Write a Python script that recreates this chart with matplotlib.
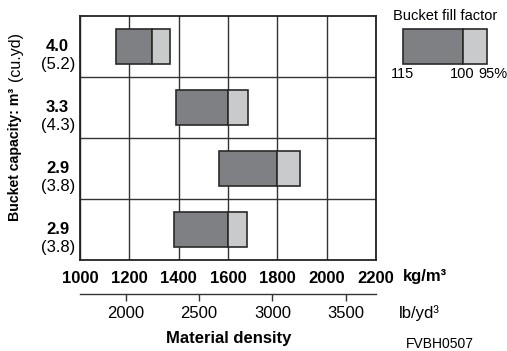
import matplotlib
matplotlib.use("Agg")
import matplotlib.pyplot as plt
import matplotlib.transforms as mtransforms
import numpy as np

plt.rcParams['font.family'] = ['Liberation Sans', 'DejaVu Sans']

W, H = 507, 351

# bucket sizes (rows, top to bottom)
capacity_m3 = ['4.0', '3.3', '2.9', '2.9']
capacity_yd = ['(5.2)', '(4.3)', '(3.8)', '(3.8)']

# material density (kg/m3) at fill factor 115 %, 100 %, 95 %
density_115 = [1145, 1390, 1565, 1382]
density_100 = [1290, 1600, 1800, 1600]
density_95 = [1365, 1682, 1893, 1678]

kg_ticks = [1000, 1200, 1400, 1600, 1800, 2000, 2200]
lb_ticks = [2000, 2500, 3000, 3500]
fill_factors = [115, 100, 95]

dark = '#7f8084'
light = '#c9cacc'
edge = '#2a2a2a'


def px(x, y):
    return x / W, 1 - y / H


def kg_to_lb(x):
    return x * 1.6856


def lb_to_kg(x):
    return x / 1.6856


fig = plt.figure(figsize=(W / 100, H / 100), dpi=100)
ax = fig.add_axes([80 / W, 1 - 260 / H, 296 / W, 244 / H])

y = np.arange(len(capacity_m3))
d115 = np.array(density_115)
d100 = np.array(density_100)
d95 = np.array(density_95)
ax.barh(y, d100 - d115, left=d115, height=0.57, color=dark,
        edgecolor=edge, linewidth=1.2, zorder=3)
ax.barh(y, d95 - d100, left=d100, height=0.57, color=light,
        edgecolor=edge, linewidth=1.2, zorder=3)

ax.set_xlim(kg_ticks[0], kg_ticks[-1])
ax.set_ylim(len(y) - 0.5, -0.5)
ax.set_xticks(kg_ticks)
ax.set_xticklabels([str(t) for t in kg_ticks], fontsize=12, fontweight='bold')
ax.tick_params(axis='x', length=0, pad=8)
ax.set_yticks([])
ax.xaxis.grid(True, color='#333333', linewidth=1.0)
for b in y[:-1] + 0.5:
    ax.axhline(b, color='#333333', linewidth=1.0)
ax.set_axisbelow(True)
for s in ax.spines.values():
    s.set_linewidth(1.3)
    s.set_color('#222222')

# row labels
trans = mtransforms.blended_transform_factory(fig.transFigure, ax.transData)
trans2 = mtransforms.offset_copy(trans, fig=fig, y=-18, units='dots')
for i, (a, b) in enumerate(zip(capacity_m3, capacity_yd)):
    ax.text(57.5 / W, i, a, transform=trans, ha='center', va='center',
            fontsize=12, fontweight='bold')
    ax.text(58 / W, i, b, transform=trans2, ha='center', va='center',
            fontsize=12)

# secondary axis in lb/yd3
sec = ax.secondary_xaxis(-0.138, functions=(kg_to_lb, lb_to_kg))
sec.set_xticks(lb_ticks)
sec.set_xticklabels([str(t) for t in lb_ticks], fontsize=12)
sec.tick_params(axis='x', direction='out', length=5, width=1, pad=4, color='#333333')
sec.spines['bottom'].set_linewidth(1.0)
sec.spines['bottom'].set_color('#333333')

fig.text(*px(403, 276), 'kg/m³', fontsize=12, fontweight='bold', ha='left', va='center')
fig.text(*px(399, 313), 'lb/yd³', fontsize=12, ha='left', va='center')
fig.text(*px(229, 338), 'Material density', fontsize=12, fontweight='bold',
         ha='center', va='center')
fig.text(*px(405.5, 344), 'FVBH0507', fontsize=10, ha='left', va='center')

# y label, bold part plus regular part
fig.text(*px(15.5, 221), 'Bucket capacity: m³', rotation=90, fontsize=10.2,
         fontweight='bold', ha='center', va='bottom')
fig.text(*px(15.5, 32), '(cu.yd)', rotation=90, fontsize=11.5,
         ha='center', va='top')

# legend
lax = fig.add_axes([402.7 / W, 1 - 64.3 / H, 84 / W, 35 / H])
pos = [100 / f for f in fill_factors]
lax.barh(0, pos[1] - pos[0], left=pos[0], height=1.0, color=dark,
         edgecolor=edge, linewidth=1.2, clip_on=False)
lax.barh(0, pos[2] - pos[1], left=pos[1], height=1.0, color=light,
         edgecolor=edge, linewidth=1.2, clip_on=False)
lax.set_xlim(pos[0], pos[2])
lax.set_ylim(-0.5, 0.5)
lax.axis('off')
ltrans = mtransforms.blended_transform_factory(lax.transData, fig.transFigure)
lax.text(pos[0], px(0, 74.5)[1], str(fill_factors[0]), transform=ltrans,
         ha='center', va='center', fontsize=10.5)
lax.text(pos[1], px(0, 74.5)[1], str(fill_factors[1]), transform=ltrans,
         ha='center', va='center', fontsize=10.5)
ltrans3 = mtransforms.offset_copy(ltrans, fig=fig, x=-8, units='dots')
lax.text(pos[2], px(0, 74.5)[1], f'{fill_factors[2]}%', transform=ltrans3,
         ha='left', va='center', fontsize=10.5)
fig.text(*px(445, 16), 'Bucket fill factor', fontsize=10.5, ha='center', va='center')

fig.savefig('out.png', dpi=100)
